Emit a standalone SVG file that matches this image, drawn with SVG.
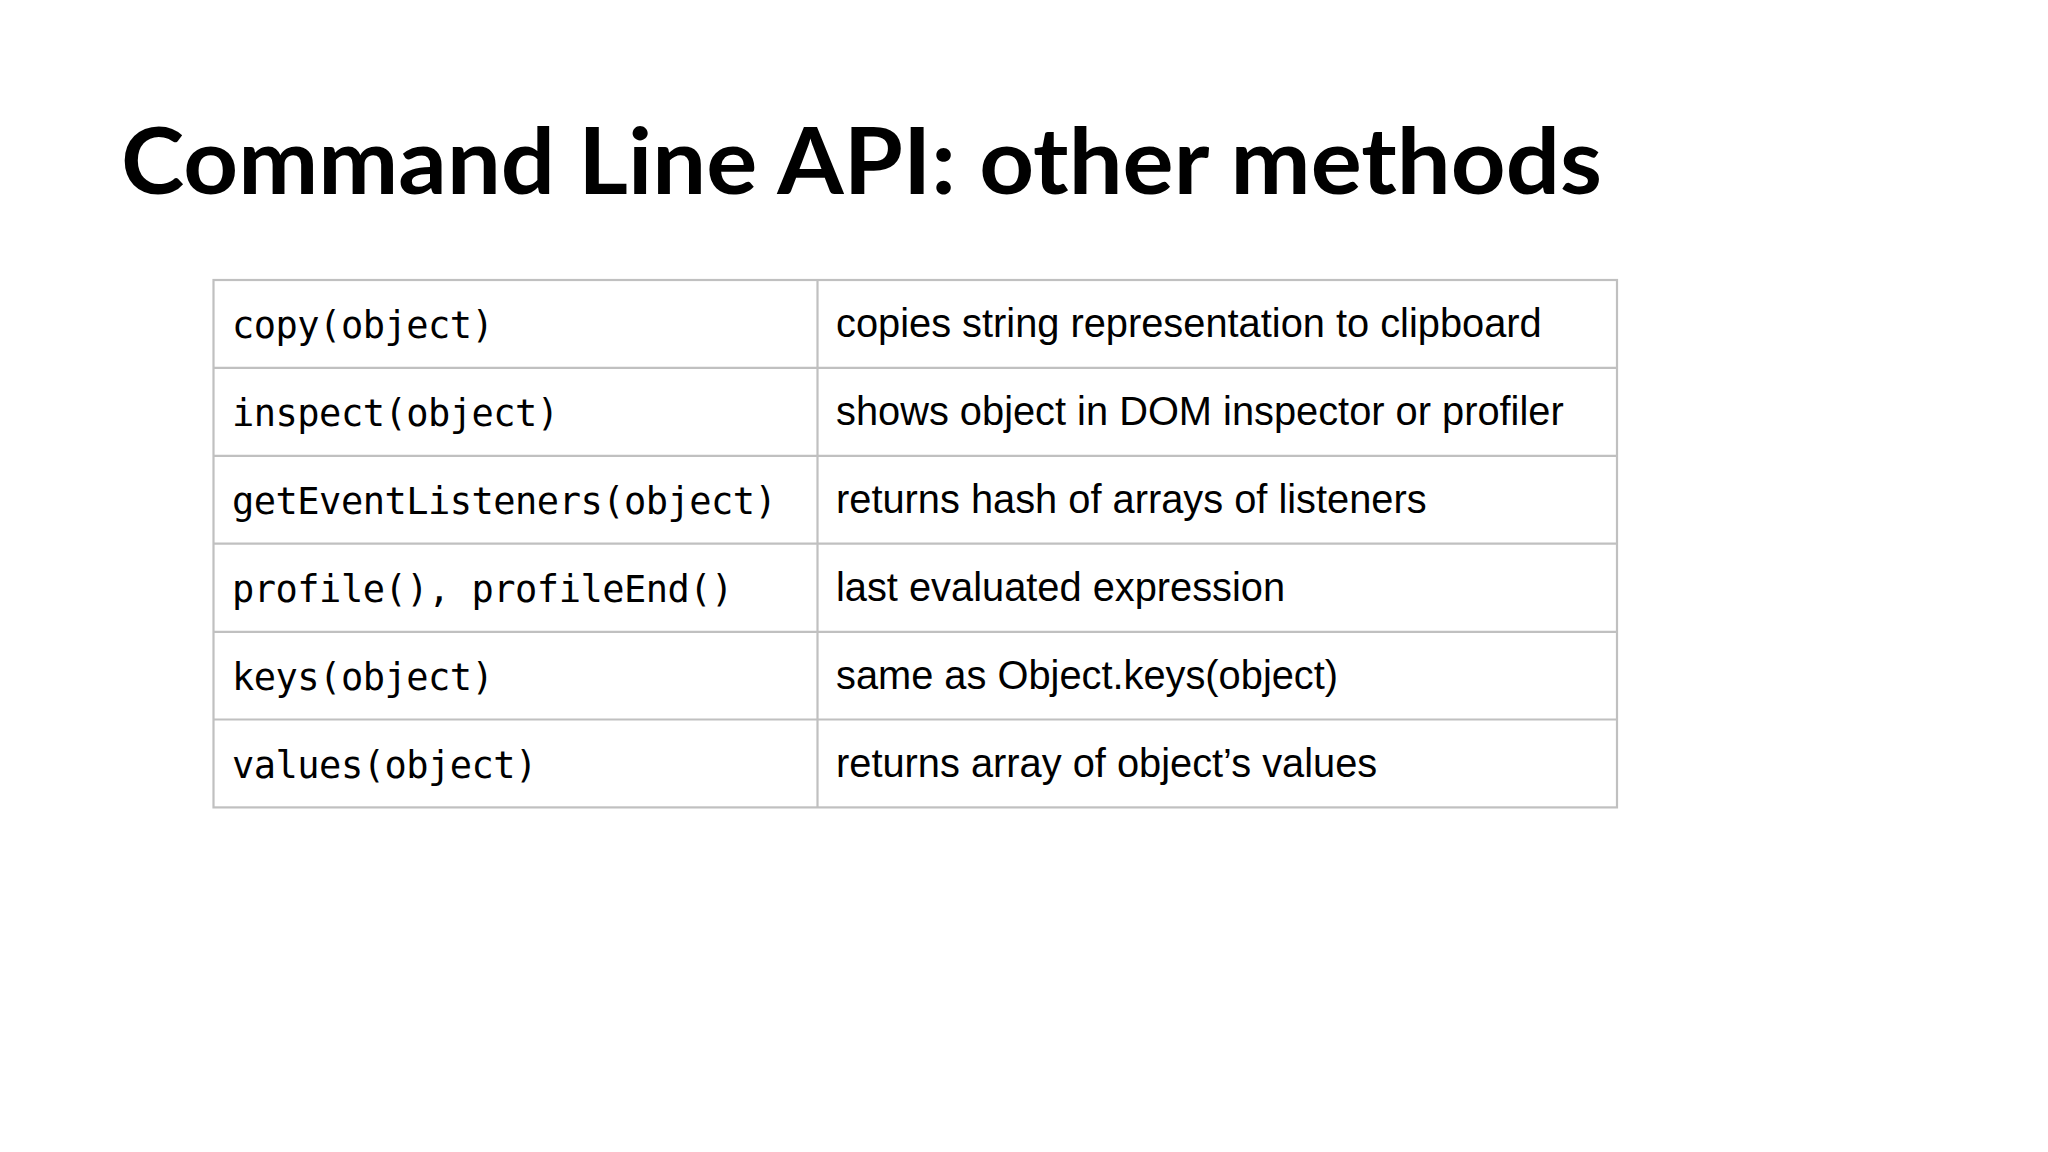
<svg xmlns="http://www.w3.org/2000/svg" width="2048" height="1152" viewBox="0 0 2048 1152">
<style>
.title{font-family:Lato,"Open Sans","Liberation Sans",sans-serif;font-weight:700;font-size:92px;fill:#000}
.mono{font-family:"DejaVu Sans Mono","Liberation Mono",monospace;font-size:37px;letter-spacing:-0.5px;fill:#000}
.desc{font-family:"Liberation Sans",Arial,sans-serif;font-size:39.8px;fill:#000}
.grid{stroke:#c0c0c0;stroke-width:2.2;fill:none}
</style>
<rect x="0" y="0" width="2048" height="1152" fill="#fff"/>
<g id="title"><text class="title" x="121" y="194" textLength="1481" lengthAdjust="spacingAndGlyphs">Command Line API: other methods</text></g>
<g id="table-grid">
<rect class="grid" x="213.5" y="280" width="1403.5" height="527.4"/>
<line class="grid" x1="817.5" y1="280" x2="817.5" y2="807.4"/>
<line class="grid" x1="213.5" y1="367.9" x2="1617" y2="367.9"/>
<line class="grid" x1="213.5" y1="455.8" x2="1617" y2="455.8"/>
<line class="grid" x1="213.5" y1="543.7" x2="1617" y2="543.7"/>
<line class="grid" x1="213.5" y1="631.8" x2="1617" y2="631.8"/>
<line class="grid" x1="213.5" y1="719.5" x2="1617" y2="719.5"/>
</g>
<g id="row1"><text class="mono" x="232" y="338">copy(object)</text><text class="desc" x="836" y="337">copies string representation to clipboard</text></g>
<g id="row2"><text class="mono" x="232" y="426">inspect(object)</text><text class="desc" x="836" y="425">shows object in DOM inspector or profiler</text></g>
<g id="row3"><text class="mono" x="232" y="514">getEventListeners(object)</text><text class="desc" x="836" y="513">returns hash of arrays of listeners</text></g>
<g id="row4"><text class="mono" x="232" y="602">profile(), profileEnd()</text><text class="desc" x="836" y="601">last evaluated expression</text></g>
<g id="row5"><text class="mono" x="232" y="690">keys(object)</text><text class="desc" x="836" y="689">same as Object.keys(object)</text></g>
<g id="row6"><text class="mono" x="232" y="778">values(object)</text><text class="desc" x="836" y="777">returns array of object’s values</text></g>
</svg>
